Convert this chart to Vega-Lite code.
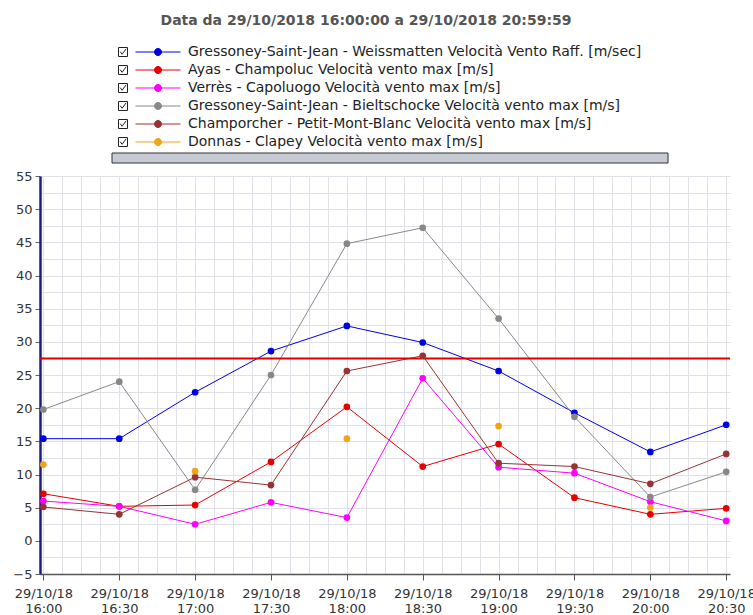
{
  "$schema": "https://vega.github.io/schema/vega-lite/v6.json",
  "width": 690,
  "height": 398,
  "autosize": {"type": "none"},
  "padding": {"left": 40, "top": 176, "right": 23, "bottom": 41},
  "background": "#ffffff",
  "title": {
    "text": "Data da 29/10/2018 16:00:00 a 29/10/2018 20:59:59",
    "font": "DejaVu Sans",
    "fontSize": 14,
    "fontWeight": "bold",
    "color": "#555555",
    "anchor": "middle",
    "dx": -19,
    "offset": 16
  },
  "config": {
    "view": {"stroke": null},
    "axis": {"title": null, "grid": true, "gridColor": "#e0e0e8", "gridWidth": 1, "labelFont": "DejaVu Sans", "labelFontSize": 13, "labelColor": "#333333"}
  },
  "datasets": {
    "vento": [
      {"t": "2018-10-29T16:00:00", "serie": "Gressoney-Saint-Jean - Weissmatten Velocità Vento Raff. [m/sec]", "v": 15.4},
      {"t": "2018-10-29T16:30:00", "serie": "Gressoney-Saint-Jean - Weissmatten Velocità Vento Raff. [m/sec]", "v": 15.4},
      {"t": "2018-10-29T17:00:00", "serie": "Gressoney-Saint-Jean - Weissmatten Velocità Vento Raff. [m/sec]", "v": 22.4},
      {"t": "2018-10-29T17:30:00", "serie": "Gressoney-Saint-Jean - Weissmatten Velocità Vento Raff. [m/sec]", "v": 28.6},
      {"t": "2018-10-29T18:00:00", "serie": "Gressoney-Saint-Jean - Weissmatten Velocità Vento Raff. [m/sec]", "v": 32.4},
      {"t": "2018-10-29T18:30:00", "serie": "Gressoney-Saint-Jean - Weissmatten Velocità Vento Raff. [m/sec]", "v": 29.9},
      {"t": "2018-10-29T19:00:00", "serie": "Gressoney-Saint-Jean - Weissmatten Velocità Vento Raff. [m/sec]", "v": 25.6},
      {"t": "2018-10-29T19:30:00", "serie": "Gressoney-Saint-Jean - Weissmatten Velocità Vento Raff. [m/sec]", "v": 19.3},
      {"t": "2018-10-29T20:00:00", "serie": "Gressoney-Saint-Jean - Weissmatten Velocità Vento Raff. [m/sec]", "v": 13.4},
      {"t": "2018-10-29T20:30:00", "serie": "Gressoney-Saint-Jean - Weissmatten Velocità Vento Raff. [m/sec]", "v": 17.5},
      {"t": "2018-10-29T16:00:00", "serie": "Ayas - Champoluc Velocità vento max [m/s]", "v": 7.1},
      {"t": "2018-10-29T16:30:00", "serie": "Ayas - Champoluc Velocità vento max [m/s]", "v": 5.2},
      {"t": "2018-10-29T17:00:00", "serie": "Ayas - Champoluc Velocità vento max [m/s]", "v": 5.4},
      {"t": "2018-10-29T17:30:00", "serie": "Ayas - Champoluc Velocità vento max [m/s]", "v": 11.9},
      {"t": "2018-10-29T18:00:00", "serie": "Ayas - Champoluc Velocità vento max [m/s]", "v": 20.2},
      {"t": "2018-10-29T18:30:00", "serie": "Ayas - Champoluc Velocità vento max [m/s]", "v": 11.2},
      {"t": "2018-10-29T19:00:00", "serie": "Ayas - Champoluc Velocità vento max [m/s]", "v": 14.6},
      {"t": "2018-10-29T19:30:00", "serie": "Ayas - Champoluc Velocità vento max [m/s]", "v": 6.5},
      {"t": "2018-10-29T20:00:00", "serie": "Ayas - Champoluc Velocità vento max [m/s]", "v": 4.0},
      {"t": "2018-10-29T20:30:00", "serie": "Ayas - Champoluc Velocità vento max [m/s]", "v": 4.9},
      {"t": "2018-10-29T16:00:00", "serie": "Verrès - Capoluogo Velocità vento max [m/s]", "v": 6.0},
      {"t": "2018-10-29T16:30:00", "serie": "Verrès - Capoluogo Velocità vento max [m/s]", "v": 5.2},
      {"t": "2018-10-29T17:00:00", "serie": "Verrès - Capoluogo Velocità vento max [m/s]", "v": 2.5},
      {"t": "2018-10-29T17:30:00", "serie": "Verrès - Capoluogo Velocità vento max [m/s]", "v": 5.8},
      {"t": "2018-10-29T18:00:00", "serie": "Verrès - Capoluogo Velocità vento max [m/s]", "v": 3.5},
      {"t": "2018-10-29T18:30:00", "serie": "Verrès - Capoluogo Velocità vento max [m/s]", "v": 24.5},
      {"t": "2018-10-29T19:00:00", "serie": "Verrès - Capoluogo Velocità vento max [m/s]", "v": 11.1},
      {"t": "2018-10-29T19:30:00", "serie": "Verrès - Capoluogo Velocità vento max [m/s]", "v": 10.2},
      {"t": "2018-10-29T20:00:00", "serie": "Verrès - Capoluogo Velocità vento max [m/s]", "v": 5.9},
      {"t": "2018-10-29T20:30:00", "serie": "Verrès - Capoluogo Velocità vento max [m/s]", "v": 3.0},
      {"t": "2018-10-29T16:00:00", "serie": "Gressoney-Saint-Jean - Bieltschocke Velocità vento max [m/s]", "v": 19.8},
      {"t": "2018-10-29T16:30:00", "serie": "Gressoney-Saint-Jean - Bieltschocke Velocità vento max [m/s]", "v": 24.0},
      {"t": "2018-10-29T17:00:00", "serie": "Gressoney-Saint-Jean - Bieltschocke Velocità vento max [m/s]", "v": 7.7},
      {"t": "2018-10-29T17:30:00", "serie": "Gressoney-Saint-Jean - Bieltschocke Velocità vento max [m/s]", "v": 25.0},
      {"t": "2018-10-29T18:00:00", "serie": "Gressoney-Saint-Jean - Bieltschocke Velocità vento max [m/s]", "v": 44.8},
      {"t": "2018-10-29T18:30:00", "serie": "Gressoney-Saint-Jean - Bieltschocke Velocità vento max [m/s]", "v": 47.2},
      {"t": "2018-10-29T19:00:00", "serie": "Gressoney-Saint-Jean - Bieltschocke Velocità vento max [m/s]", "v": 33.5},
      {"t": "2018-10-29T19:30:00", "serie": "Gressoney-Saint-Jean - Bieltschocke Velocità vento max [m/s]", "v": 18.7},
      {"t": "2018-10-29T20:00:00", "serie": "Gressoney-Saint-Jean - Bieltschocke Velocità vento max [m/s]", "v": 6.6},
      {"t": "2018-10-29T20:30:00", "serie": "Gressoney-Saint-Jean - Bieltschocke Velocità vento max [m/s]", "v": 10.4},
      {"t": "2018-10-29T16:00:00", "serie": "Champorcher - Petit-Mont-Blanc Velocità vento max [m/s]", "v": 5.1},
      {"t": "2018-10-29T16:30:00", "serie": "Champorcher - Petit-Mont-Blanc Velocità vento max [m/s]", "v": 4.0},
      {"t": "2018-10-29T17:00:00", "serie": "Champorcher - Petit-Mont-Blanc Velocità vento max [m/s]", "v": 9.6},
      {"t": "2018-10-29T17:30:00", "serie": "Champorcher - Petit-Mont-Blanc Velocità vento max [m/s]", "v": 8.4},
      {"t": "2018-10-29T18:00:00", "serie": "Champorcher - Petit-Mont-Blanc Velocità vento max [m/s]", "v": 25.6},
      {"t": "2018-10-29T18:30:00", "serie": "Champorcher - Petit-Mont-Blanc Velocità vento max [m/s]", "v": 27.9},
      {"t": "2018-10-29T19:00:00", "serie": "Champorcher - Petit-Mont-Blanc Velocità vento max [m/s]", "v": 11.7},
      {"t": "2018-10-29T19:30:00", "serie": "Champorcher - Petit-Mont-Blanc Velocità vento max [m/s]", "v": 11.2},
      {"t": "2018-10-29T20:00:00", "serie": "Champorcher - Petit-Mont-Blanc Velocità vento max [m/s]", "v": 8.6},
      {"t": "2018-10-29T20:30:00", "serie": "Champorcher - Petit-Mont-Blanc Velocità vento max [m/s]", "v": 13.1},
      {"t": "2018-10-29T16:00:00", "serie": "Donnas - Clapey Velocità vento max [m/s]", "v": 11.5},
      {"t": "2018-10-29T17:00:00", "serie": "Donnas - Clapey Velocità vento max [m/s]", "v": 10.5},
      {"t": "2018-10-29T18:00:00", "serie": "Donnas - Clapey Velocità vento max [m/s]", "v": 15.4},
      {"t": "2018-10-29T19:00:00", "serie": "Donnas - Clapey Velocità vento max [m/s]", "v": 17.3},
      {"t": "2018-10-29T20:00:00", "serie": "Donnas - Clapey Velocità vento max [m/s]", "v": 5.0}
    ]
  },
  "layer": [
    {
      "data": {"name": "vento"},
      "mark": {"type": "point", "filled": false, "color": "#222222", "opacity": 0},
      "encoding": {
        "x": {"field": "t", "type": "temporal"},
        "y": {"field": "v", "type": "quantitative"},
        "shape": {
          "field": "serie", "type": "nominal",
          "scale": {"range": [
            "M-0.6,-0.6H0.6V0.6H-0.6ZM-0.38,-0.05L-0.12,0.3L0.42,-0.42",
            "M-0.6,-0.6H0.6V0.6H-0.6ZM-0.38,-0.05L-0.12,0.3L0.42,-0.42",
            "M-0.6,-0.6H0.6V0.6H-0.6ZM-0.38,-0.05L-0.12,0.3L0.42,-0.42",
            "M-0.6,-0.6H0.6V0.6H-0.6ZM-0.38,-0.05L-0.12,0.3L0.42,-0.42",
            "M-0.6,-0.6H0.6V0.6H-0.6ZM-0.38,-0.05L-0.12,0.3L0.42,-0.42",
            "M-0.6,-0.6H0.6V0.6H-0.6ZM-0.38,-0.05L-0.12,0.3L0.42,-0.42"
          ]},
          "legend": {
            "title": null,
            "orient": "none",
            "legendX": 75,
            "legendY": -132,
            "direction": "vertical",
            "symbolSize": 225,
            "symbolStrokeWidth": 1,
            "symbolStrokeColor": "#222222",
            "symbolFillColor": "#ffffff",
            "symbolOpacity": 1,
            "labelExpr": "''",
            "labelFont": "DejaVu Sans",
            "labelFontSize": 14,
            "rowPadding": 3
          }
        }
      }
    },
    {
      "data": {"name": "vento"},
      "mark": {"type": "point", "filled": true, "opacity": 0},
      "encoding": {
        "x": {"field": "t", "type": "temporal"},
        "y": {"field": "v", "type": "quantitative"},
        "fill": {
          "field": "v", "type": "quantitative",
          "scale": {"range": ["#c6cad2", "#c6cad2"]},
          "legend": {
            "title": null,
            "orient": "none",
            "legendX": 72,
            "legendY": -23,
            "direction": "horizontal",
            "gradientLength": 556,
            "gradientThickness": 10,
            "gradientStrokeColor": "#333333",
            "gradientStrokeWidth": 1,
            "labelExpr": "''",
            "tickCount": 2
          }
        }
      }
    },
    {
      "data": {"name": "vento"},
      "transform": [{"filter": "datum.serie !== 'Donnas - Clapey Velocità vento max [m/s]'"}],
      "mark": {"type": "line", "strokeWidth": 1, "opacity": 1},
      "encoding": {
        "x": {
          "field": "t", "type": "temporal",
          "scale": {"domain": [
            {"year": 2018, "month": 10, "date": 29, "hours": 15, "minutes": 58, "seconds": 40},
            {"year": 2018, "month": 10, "date": 29, "hours": 20, "minutes": 31, "seconds": 30}
          ]},
          "axis": {
            "values": [
              {"year": 2018, "month": 10, "date": 29, "hours": 16, "minutes": 0, "seconds": 0},
              {"year": 2018, "month": 10, "date": 29, "hours": 16, "minutes": 7, "seconds": 30},
              {"year": 2018, "month": 10, "date": 29, "hours": 16, "minutes": 15, "seconds": 0},
              {"year": 2018, "month": 10, "date": 29, "hours": 16, "minutes": 22, "seconds": 30},
              {"year": 2018, "month": 10, "date": 29, "hours": 16, "minutes": 30, "seconds": 0},
              {"year": 2018, "month": 10, "date": 29, "hours": 16, "minutes": 37, "seconds": 30},
              {"year": 2018, "month": 10, "date": 29, "hours": 16, "minutes": 45, "seconds": 0},
              {"year": 2018, "month": 10, "date": 29, "hours": 16, "minutes": 52, "seconds": 30},
              {"year": 2018, "month": 10, "date": 29, "hours": 17, "minutes": 0, "seconds": 0},
              {"year": 2018, "month": 10, "date": 29, "hours": 17, "minutes": 7, "seconds": 30},
              {"year": 2018, "month": 10, "date": 29, "hours": 17, "minutes": 15, "seconds": 0},
              {"year": 2018, "month": 10, "date": 29, "hours": 17, "minutes": 22, "seconds": 30},
              {"year": 2018, "month": 10, "date": 29, "hours": 17, "minutes": 30, "seconds": 0},
              {"year": 2018, "month": 10, "date": 29, "hours": 17, "minutes": 37, "seconds": 30},
              {"year": 2018, "month": 10, "date": 29, "hours": 17, "minutes": 45, "seconds": 0},
              {"year": 2018, "month": 10, "date": 29, "hours": 17, "minutes": 52, "seconds": 30},
              {"year": 2018, "month": 10, "date": 29, "hours": 18, "minutes": 0, "seconds": 0},
              {"year": 2018, "month": 10, "date": 29, "hours": 18, "minutes": 7, "seconds": 30},
              {"year": 2018, "month": 10, "date": 29, "hours": 18, "minutes": 15, "seconds": 0},
              {"year": 2018, "month": 10, "date": 29, "hours": 18, "minutes": 22, "seconds": 30},
              {"year": 2018, "month": 10, "date": 29, "hours": 18, "minutes": 30, "seconds": 0},
              {"year": 2018, "month": 10, "date": 29, "hours": 18, "minutes": 37, "seconds": 30},
              {"year": 2018, "month": 10, "date": 29, "hours": 18, "minutes": 45, "seconds": 0},
              {"year": 2018, "month": 10, "date": 29, "hours": 18, "minutes": 52, "seconds": 30},
              {"year": 2018, "month": 10, "date": 29, "hours": 19, "minutes": 0, "seconds": 0},
              {"year": 2018, "month": 10, "date": 29, "hours": 19, "minutes": 7, "seconds": 30},
              {"year": 2018, "month": 10, "date": 29, "hours": 19, "minutes": 15, "seconds": 0},
              {"year": 2018, "month": 10, "date": 29, "hours": 19, "minutes": 22, "seconds": 30},
              {"year": 2018, "month": 10, "date": 29, "hours": 19, "minutes": 30, "seconds": 0},
              {"year": 2018, "month": 10, "date": 29, "hours": 19, "minutes": 37, "seconds": 30},
              {"year": 2018, "month": 10, "date": 29, "hours": 19, "minutes": 45, "seconds": 0},
              {"year": 2018, "month": 10, "date": 29, "hours": 19, "minutes": 52, "seconds": 30},
              {"year": 2018, "month": 10, "date": 29, "hours": 20, "minutes": 0, "seconds": 0},
              {"year": 2018, "month": 10, "date": 29, "hours": 20, "minutes": 7, "seconds": 30},
              {"year": 2018, "month": 10, "date": 29, "hours": 20, "minutes": 15, "seconds": 0},
              {"year": 2018, "month": 10, "date": 29, "hours": 20, "minutes": 22, "seconds": 30},
              {"year": 2018, "month": 10, "date": 29, "hours": 20, "minutes": 30, "seconds": 0}
            ],
            "tickCount": 200,
            "labelExpr": "(minutes(datum.value) % 30 === 0 && seconds(datum.value) === 0) ? ['29/10/18', timeFormat(datum.value, '%H:%M')] : ''",
            "labelOverlap": false,
            "labelFlush": false,
            "labelBound": false,
            "labelAlign": "center",
            "labelPadding": 7,
            "labelLineHeight": 15,
            "tickSize": 6,
            "tickColor": "#555555",
            "tickOpacity": {"condition": {"test": "minutes(datum.value) % 30 === 0 && seconds(datum.value) === 0", "value": 1}, "value": 0},
            "domainColor": "#555555",
            "domainWidth": 1.5
          }
        },
        "y": {
          "field": "v", "type": "quantitative",
          "scale": {"domain": [-5, 55], "nice": false, "zero": false},
          "axis": {
            "values": [-5, -2.5, 0, 2.5, 5, 7.5, 10, 12.5, 15, 17.5, 20, 22.5, 25, 27.5, 30, 32.5, 35, 37.5, 40, 42.5, 45, 47.5, 50, 52.5, 55],
            "tickCount": 200,
            "labelExpr": "datum.value % 5 === 0 ? format(datum.value, 'd') : ''",
            "labelOverlap": false,
            "labelFlush": false,
            "labelPadding": 3,
            "tickSize": 5,
            "tickColor": "#666666",
            "tickOpacity": {"condition": {"test": "datum.value % 5 === 0", "value": 1}, "value": 0},
            "domainColor": "#1c1c8c",
            "domainWidth": 2.5
          }
        },
        "color": {
          "field": "serie", "type": "nominal",
          "scale": {
            "domain": [
              "Gressoney-Saint-Jean - Weissmatten Velocità Vento Raff. [m/sec]",
              "Ayas - Champoluc Velocità vento max [m/s]",
              "Verrès - Capoluogo Velocità vento max [m/s]",
              "Gressoney-Saint-Jean - Bieltschocke Velocità vento max [m/s]",
              "Champorcher - Petit-Mont-Blanc Velocità vento max [m/s]",
              "Donnas - Clapey Velocità vento max [m/s]"
            ],
            "range": ["#0000e6", "#e80000", "#ff00ff", "#888888", "#993333", "#f2a31b"]
          },
          "legend": {
            "title": null,
            "orient": "none",
            "legendX": 110,
            "legendY": -132,
            "direction": "vertical",
            "symbolType": "M-3,0H3M-0.47,0A0.47,0.47,0,1,1,0.47,0A0.47,0.47,0,1,1,-0.47,0Z",
            "symbolSize": 225,
            "symbolStrokeWidth": 1,
            "symbolOpacity": 1,
            "labelFont": "DejaVu Sans",
            "labelFontSize": 14,
            "labelColor": "#222222",
            "labelOffset": 22,
            "labelLimit": 700,
            "rowPadding": 3
          }
        }
      }
    },
    {
      "data": {"values": [{"soglia": 27.5}]},
      "mark": {"type": "rule", "color": "#e00000", "strokeWidth": 2},
      "encoding": {"y": {"field": "soglia", "type": "quantitative"}}
    },
    {
      "data": {"name": "vento"},
      "mark": {"type": "point", "filled": true, "size": 45, "opacity": 1},
      "encoding": {
        "x": {"field": "t", "type": "temporal"},
        "y": {"field": "v", "type": "quantitative"},
        "color": {"field": "serie", "type": "nominal"}
      }
    }
  ]
}
